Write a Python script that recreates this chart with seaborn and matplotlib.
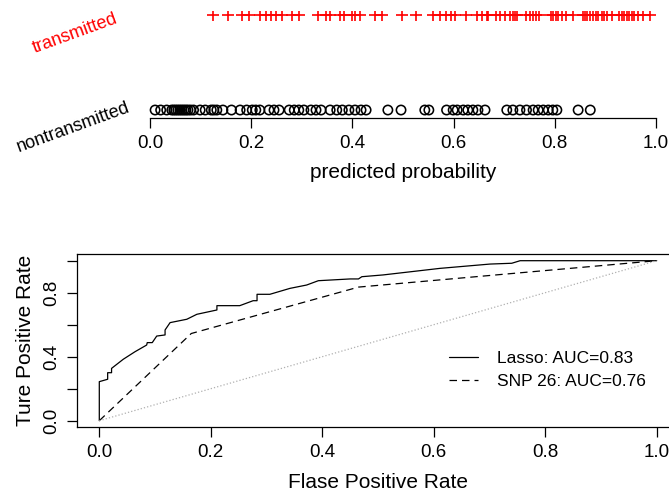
import numpy as np
import pandas as pd
import matplotlib
matplotlib.use('Agg')
import matplotlib.pyplot as plt
import seaborn as sns

# predicted probabilities
transmitted = [0.124, 0.154, 0.181, 0.196, 0.217, 0.229, 0.239, 0.249, 0.260, 0.280,
               0.294, 0.332, 0.348, 0.356, 0.375, 0.383, 0.399, 0.405, 0.415, 0.445,
               0.458, 0.497, 0.526, 0.559, 0.573, 0.585, 0.594, 0.603, 0.625, 0.646,
               0.656, 0.665, 0.668, 0.684, 0.692, 0.702, 0.711, 0.717, 0.721, 0.725,
               0.743, 0.751, 0.757, 0.763, 0.769, 0.792, 0.796, 0.802, 0.806, 0.814,
               0.822, 0.836, 0.855, 0.860, 0.864, 0.870, 0.875, 0.881, 0.885, 0.893,
               0.897, 0.903, 0.912, 0.927, 0.932, 0.937, 0.942, 0.947, 0.952, 0.957,
               0.964, 0.974, 0.988]
nontransmitted = [0.010, 0.021, 0.033, 0.043, 0.047, 0.051, 0.055, 0.059, 0.063, 0.067,
                  0.071, 0.075, 0.080, 0.086, 0.099, 0.109, 0.121, 0.126, 0.132, 0.144,
                  0.161, 0.178, 0.191, 0.202, 0.209, 0.217, 0.235, 0.245, 0.255, 0.275,
                  0.285, 0.294, 0.304, 0.318, 0.328, 0.338, 0.356, 0.369, 0.380, 0.393,
                  0.405, 0.417, 0.427, 0.470, 0.496, 0.543, 0.551, 0.586, 0.599, 0.607,
                  0.619, 0.628, 0.638, 0.648, 0.662, 0.705, 0.717, 0.731, 0.744, 0.757,
                  0.767, 0.777, 0.787, 0.796, 0.804, 0.846, 0.870]
group_labels = ['nontransmitted', 'transmitted']

# ROC curves
lasso_fpr = [0, 0, 0.015, 0.015, 0.022, 0.022, 0.043, 0.064, 0.085, 0.086, 0.095, 0.103,
             0.118, 0.118, 0.127, 0.157, 0.175, 0.211, 0.211, 0.252, 0.276, 0.283, 0.283,
             0.306, 0.342, 0.372, 0.393, 0.45, 0.465, 0.471, 0.509, 0.611, 0.701, 0.74,
             0.755, 1.0]
lasso_tpr = [0, 0.244, 0.259, 0.30, 0.30, 0.327, 0.384, 0.431, 0.473, 0.488, 0.488, 0.529,
             0.536, 0.567, 0.613, 0.634, 0.665, 0.692, 0.719, 0.719, 0.75, 0.75, 0.79,
             0.79, 0.827, 0.848, 0.875, 0.886, 0.886, 0.90, 0.911, 0.952, 0.979, 0.984,
             1.0, 1.0]
snp_fpr = [0, 0.165, 0.465, 1.0]
snp_tpr = [0, 0.545, 0.835, 1.0]
ticks = [0.0, 0.2, 0.4, 0.6, 0.8, 1.0]

sns.set_style('ticks')
plt.rcParams['font.family'] = ['Liberation Sans', 'DejaVu Sans']
plt.rcParams.update({'text.color': 'black', 'axes.labelcolor': 'black',
                     'xtick.color': 'black', 'ytick.color': 'black',
                     'axes.edgecolor': 'black'})

W, H = 669, 492
fig = plt.figure(figsize=(W / 100, H / 100), dpi=100)

# ---- top: strip chart ----
ax1 = fig.add_axes([129.8 / W, 1 - 118 / H, 546.5 / W, 106.8 / H])
strip = pd.DataFrame({'p': transmitted + nontransmitted,
                      'grp': [2] * len(transmitted) + [1] * len(nontransmitted)})
sns.scatterplot(data=strip[strip.grp == 2], x='p', y='grp', marker='+', color='red',
                s=70, linewidth=1.2, ax=ax1, legend=False)
sns.scatterplot(data=strip[strip.grp == 1], x='p', y='grp', marker='o', facecolor='none',
                edgecolor='black', s=45, linewidth=1.15, ax=ax1, legend=False)
ax1.set_xlim(-0.04, 1.04)
ax1.set_ylim(0.916, 2.04)
for side in ['top', 'right', 'left']:
    ax1.spines[side].set_visible(False)
ax1.spines['bottom'].set_bounds(0, 1)
ax1.spines['bottom'].set_linewidth(0.9)
ax1.set_yticks([])
ax1.set_xticks(ticks)
ax1.set_xticklabels([f'{t:.1f}' for t in ticks])
ax1.tick_params(axis='x', length=7, width=0.9, pad=5, labelsize=13.5)
ax1.set_xlabel('predicted probability', fontsize=15, labelpad=8)
ax1.set_ylabel('')
ax1.text(-0.148, 1.81, group_labels[1], color='red', fontsize=13, rotation=20,
         ha='center', va='center', rotation_mode='anchor', clip_on=False)
ax1.text(-0.152, 0.82, group_labels[0], color='black', fontsize=13, rotation=20,
         ha='center', va='center', rotation_mode='anchor', clip_on=False)

# ---- bottom: ROC ----
ax2 = fig.add_axes([77 / W, 1 - 427.1 / H, 602 / W, 172.8 / H])
roc = pd.concat([
    pd.DataFrame({'fpr': lasso_fpr, 'tpr': lasso_tpr, 'model': 'Lasso: AUC=0.83'}),
    pd.DataFrame({'fpr': snp_fpr, 'tpr': snp_tpr, 'model': 'SNP 26: AUC=0.76'}),
])
sns.lineplot(data=roc, x='fpr', y='tpr', style='model', color='black', linewidth=0.9,
             sort=False, estimator=None,
             dashes={'Lasso: AUC=0.83': '', 'SNP 26: AUC=0.76': (6, 4)}, ax=ax2)
sns.lineplot(x=[0, 1], y=[0, 1], color='#b0b0b0', linestyle=':', linewidth=0.9,
             ax=ax2, legend=False)
ax2.set_xlim(-0.04, 1.04)
ax2.set_ylim(-0.04, 1.04)
for s in ax2.spines.values():
    s.set_linewidth(0.9)
ax2.set_xticks(ticks)
ax2.set_xticklabels([f'{t:.1f}' for t in ticks])
ax2.set_yticks(ticks)
ax2.set_yticklabels([f'{t:.1f}' if i % 2 == 0 else '' for i, t in enumerate(ticks)],
                    rotation=90, va='center')
ax2.tick_params(length=7, width=0.9, pad=5, labelsize=13.5)
ax2.set_xlabel('Flase Positive Rate', fontsize=15, labelpad=9)
ax2.set_ylabel('Ture Positive Rate', fontsize=15, labelpad=6)
leg = ax2.legend(frameon=False, fontsize=12.5, loc='upper left',
                 bbox_to_anchor=(433 / W, 1 - 335 / H), bbox_transform=fig.transFigure,
                 handlelength=1.7, handletextpad=1.1, labelspacing=0.45)

fig.savefig('out.png', dpi=100)
